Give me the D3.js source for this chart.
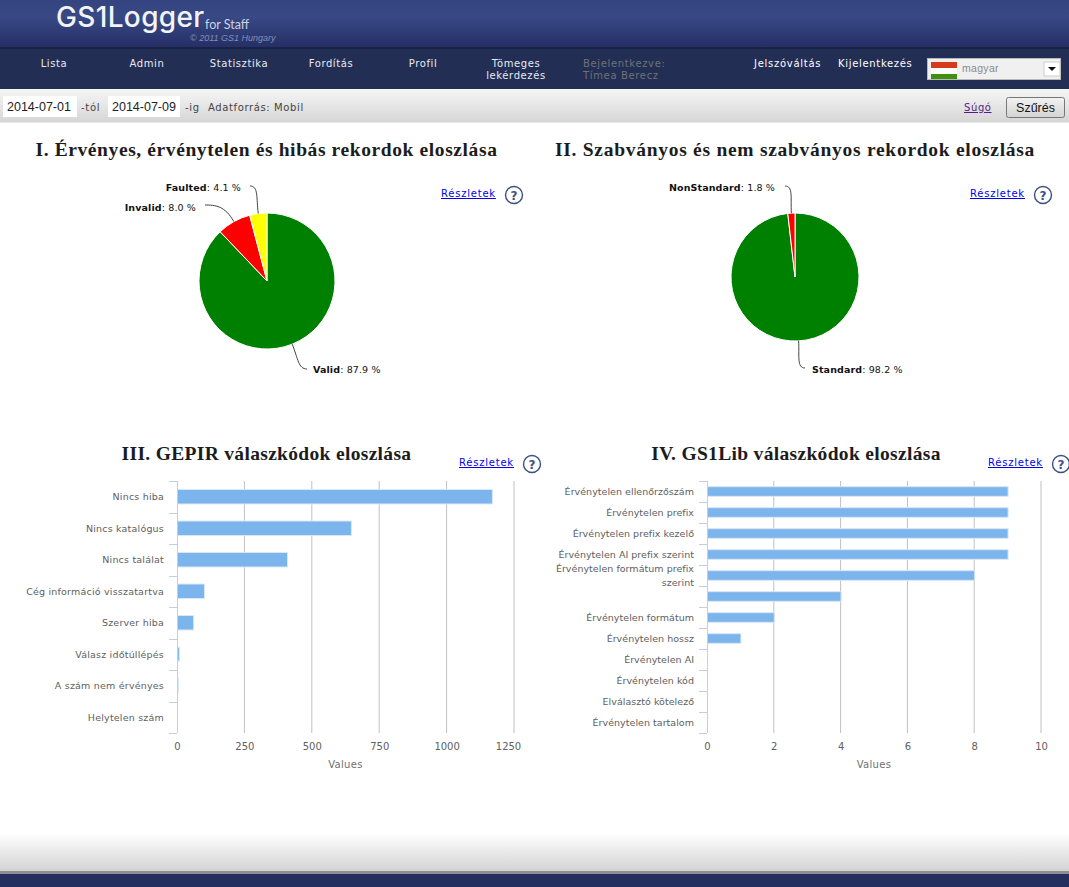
<!DOCTYPE html>
<html><head><meta charset="utf-8">
<script src="https://d3js.org/d3.v7.min.js"></script>
<style>
html,body{margin:0;padding:0;background:#fff;overflow:hidden}
svg{display:block}
text{font-family:"DejaVu Sans",sans-serif}
</style></head><body><div id="c"></div>
<script>
const navItems=[["Lista"],["Admin"],["Statisztika"],["Fordítás"],["Profil"],["Tömeges","lekérdezés"]];
const pieOneNames=["Valid","Invalid","Faulted"];
const pieOneValues=[87.9,8.0,4.1];
const pieOneColors=["#008000","#ff0000","#ffff00"];
const pieTwoNames=["Standard","NonStandard"];
const pieTwoValues=[98.2,1.8];
const pieTwoColors=["#008000","#ff0000"];
const gepirCategories=["Nincs hiba","Nincs katalógus","Nincs találat","Cég információ visszatartva","Szerver hiba","Válasz időtúllépés","A szám nem érvényes","Helytelen szám"];
const gepirValues=[1168,645,408,100,60,7,3,0];
const gepirTicks=[0,250,500,750,1000,1250];
const libCategories=["Érvénytelen ellenőrzőszám","Érvénytelen prefix","Érvénytelen prefix kezelő","Érvénytelen AI prefix szerint","Érvénytelen formátum prefix szerint","","Érvénytelen formátum","Érvénytelen hossz","Érvénytelen AI","Érvénytelen kód","Elválasztó kötelező","Érvénytelen tartalom"];
const libValues=[9,9,9,9,8,4,2,1,0,0,0,0];
const libTicks=[0,2,4,6,8,10];

const W=1069,H=887;
const svg=d3.select("#c").append("svg").attr("width",W).attr("height",H);
const defs=svg.append("defs");
function grad(id,stops){const g=defs.append("linearGradient").attr("id",id).attr("x1",0).attr("x2",0).attr("y1",0).attr("y2",1);
 stops.forEach(([o,c])=>g.append("stop").attr("offset",o).attr("stop-color",c));}
grad("hdr",[[0,"#34447f"],[.35,"#384985"],[1,"#262f66"]]);
grad("bar",[[0,"#f6f6f6"],[1,"#d6d6d6"]]);
grad("foot",[[0,"#ffffff"],[1,"#d2d2d2"]]);
grad("btn",[[0,"#f2f2f2"],[1,"#d4d4d4"]]);
function rect(x,y,w,h,f,s){return svg.append("rect").attr("x",x).attr("y",y).attr("width",w).attr("height",h).attr("fill",f).attr("stroke",s||"none");}
function txt(x,y,t,o={}){const e=svg.append("text").attr("x",x).attr("y",y).text(t)
 .attr("font-size",o.size||10).attr("fill",o.fill||"#333").attr("text-anchor",o.anchor||"start");
 if(o.family)e.style("font-family",o.family);
 if(o.weight)e.attr("font-weight",o.weight);
 if(o.style)e.attr("font-style",o.style);
 if(o.ls)e.attr("letter-spacing",o.ls);
 if(o.deco)e.attr("text-decoration",o.deco);
 return e;}

// header
rect(0,0,W,47,"url(#hdr)");
rect(0,47,W,2,"#1a2245");
rect(0,49,W,40,"#232e55");
rect(0,89,W,33,"url(#bar)");
rect(0,122,W,1,"#e8e8e8");
// logo
txt(56,26.5,"GS1Logger",{size:28,fill:"#f2f4f8",family:"Inter",weight:500,ls:"0.35px"});
txt(205,29,"for Staff",{size:12.5,fill:"#cdd2e2",family:"Lato"});
txt(190,41,"© 2011 GS1 Hungary",{size:9,fill:"#8290b8",family:"Liberation Sans",style:"italic"});
// nav
const navX=[54,147,239,331,423,516];
navItems.forEach((lines,i)=>lines.forEach((l,j)=>txt(navX[i],67+j*12,l,{size:10,fill:"#e8ebf2",anchor:"middle",ls:"0.6px"})));
txt(583,67,"Bejelentkezve:",{size:10,fill:"#6d7278",ls:"0.65px"});
txt(583,79,"Tímea Berecz",{size:10,fill:"#6d7278",ls:"0.65px"});
txt(754,67,"Jelszóváltás",{size:10,fill:"#fff",ls:"0.72px"});
txt(838,67,"Kijelentkezés",{size:10,fill:"#fff",ls:"0.68px"});
rect(927.5,58.5,133,21,"#f0f0f0","#b8b8b8");
rect(931,62,26,6,"#d63a1a");rect(931,68,26,6,"#fbfbfb");rect(931,74,26,5,"#3f8f10");
txt(962,72,"magyar",{size:10.5,fill:"#8a8a8a",family:"Liberation Sans",ls:"0.3px"});
rect(1044,62,16,14,"#fff","#cfcfcf");
svg.append("path").attr("d",d3.line()([[1048,67],[1056,67],[1052,71]])+"Z").attr("fill","#111");
// toolbar
rect(3,96,74,21,"#fff");rect(108,96,72,21,"#fff");
txt(7,111,"2014-07-01",{size:12.5,fill:"#222",family:"Liberation Sans"});
txt(112,111,"2014-07-09",{size:12.5,fill:"#222",family:"Liberation Sans"});
txt(81,111,"-tól",{size:10,fill:"#444",ls:"0.7px"});
txt(185,111,"-ig",{size:10,fill:"#444",ls:"0.7px"});
txt(208,111,"Adatforrás: Mobil",{size:10,fill:"#444",ls:"0.62px"});
txt(964,111,"Súgó",{size:10,fill:"#551a8b",deco:"underline",ls:"0.6px"});
svg.append("rect").attr("x",1006.5).attr("y",97.5).attr("width",58).attr("height",20).attr("rx",2).attr("fill","url(#btn)").attr("stroke","#777");
txt(1035.5,112,"Szűrés",{size:12.5,fill:"#111",anchor:"middle",family:"Liberation Sans"});
// footer
rect(0,833,W,39,"url(#foot)");
rect(0,871,W,3,"#8f8f8f");
rect(0,874,W,13,"#242f60");

// titles
const T={size:19.5,fill:"#1c1c1c",weight:"bold",family:"'Liberation Serif'",anchor:"middle"};
txt(266.5,156,"I. Érvényes, érvénytelen és hibás rekordok eloszlása",{...T,ls:"0.6px"});
txt(795,156,"II. Szabványos és nem szabványos rekordok eloszlása",{...T,ls:"0.72px"});
txt(266.5,460,"III. GEPIR válaszkódok eloszlása",{...T,ls:"0.32px"});
txt(796,460,"IV. GS1Lib válaszkódok eloszlása",{...T,ls:"0.32px"});
// details
function details(x,y){
 txt(x,y,"Részletek",{size:10,fill:"#0000ee",deco:"underline",ls:"0.78px"});
 const cx=x+73,cy=y-2;
 svg.append("circle").attr("cx",cx).attr("cy",cy).attr("r",8.5).attr("fill","#fff").attr("stroke","#3c4f86").attr("stroke-width",1.4);
 txt(cx,cy+4.5,"?",{size:12,fill:"#3c4f86",anchor:"middle",weight:"bold"});
}
details(441,197);details(970,197);details(459,466);details(988,466);

// pies
function drawPie(cx,cy,r,names,vals,cols,labels){
 const g=svg.append("g").attr("transform",`translate(${cx},${cy})`);
 const arcs=d3.pie().sort(null)(vals);
 const arc=d3.arc().innerRadius(0).outerRadius(r);
 g.selectAll("path.s").data(arcs).join("path").attr("class","s").attr("d",arc)
  .attr("fill",(d,i)=>cols[i]).attr("stroke","#fff").attr("stroke-width",1).attr("stroke-linejoin","round");
 arcs.forEach((a,i)=>{
  const m=(a.startAngle+a.endAngle)/2, sx=Math.sin(m), sy=-Math.cos(m);
  const L=labels[i];
  const px=r*sx, py=r*sy;
  const ex=L.x-cx, ey=L.y-cy;
  const dist=Math.hypot(ex-px,ey-py);
  const c1=[px+sx*dist*.55,py+sy*dist*.55];
  const c2=[ex+(L.side)*dist*.3,ey];
  g.append("path").attr("d",`M${px},${py}C${c1[0]},${c1[1]} ${c2[0]},${c2[1]} ${ex},${ey}`)
   .attr("fill","none").attr("stroke","#444").attr("stroke-width",1);
  const t=svg.append("text").attr("x",L.tx).attr("y",L.ly+3.5).attr("font-size",9.5).attr("fill","#111")
   .attr("text-anchor",L.side>0?"end":"start").attr("letter-spacing","0.12px");
  t.append("tspan").attr("font-weight","bold").text(names[i]);
  t.append("tspan").text(": "+vals[i].toFixed(1)+" %");
 });
}
drawPie(267,281,68,pieOneNames,pieOneValues,pieOneColors,[
 {x:307,y:369,tx:313,ly:369,side:-1},
 {x:205,y:205,tx:196,ly:207,side:1},
 {x:250,y:186,tx:241,ly:187,side:1}]);
drawPie(795,277,64,pieTwoNames,pieTwoValues,pieTwoColors,[
 {x:805,y:368,tx:812,ly:369,side:-1},
 {x:785,y:186,tx:775,ly:187,side:1}]);

// bars
function drawBars(x0,x1,y0,y1,cats,vals,ticks,domMax,ls,lastShift){
 const x=d3.scaleLinear().domain([0,domMax]).range([x0,x1]);
 const y=d3.scaleBand().domain(d3.range(cats.length)).range([y0,y1]);
 const g=svg.append("g");
 g.selectAll("line.gr").data(ticks.slice(1)).join("line").attr("class","gr")
  .attr("x1",d=>x(d)).attr("x2",d=>x(d)).attr("y1",y0).attr("y2",y1).attr("stroke","#c0c0c0").attr("stroke-width",1);
 const hb=y.bandwidth()*0.46;
 g.selectAll("rect").data(vals).join("rect")
  .attr("x",x0+.5).attr("y",(d,i)=>y(i)+y.bandwidth()/2-hb/2).attr("width",d=>Math.max(0,x(d)-x0))
  .attr("height",hb).attr("fill","#7cb5ec").attr("stroke","#d9e8f8").attr("stroke-width",1)
  .attr("opacity",d=>d>0?1:0);
 const ax=g.append("g").attr("transform",`translate(0,${y1})`).call(d3.axisBottom(x).tickValues(ticks).tickSize(0).tickPadding(10).tickFormat(d3.format("d")));
 ax.select(".domain").remove();
 ax.selectAll("text").attr("font-size",10).attr("fill","#606060").style("font-family","'DejaVu Sans'")
  .attr("dx",(d,i)=>i===ticks.length-1?-lastShift:0);
 g.append("line").attr("x1",x0+.5).attr("x2",x0+.5).attr("y1",y0).attr("y2",y1).attr("stroke","#c0d0e0");
 d3.range(cats.length+1).forEach(i=>{
  const yy=i<cats.length?y(i):y1;
  g.append("line").attr("x1",x0-8).attr("x2",x0).attr("y1",Math.round(yy)+.5).attr("y2",Math.round(yy)+.5).attr("stroke","#c0d0e0");
 });
 cats.forEach((c,i)=>{
  if(!c)return;
  const cy=y(i)+y.bandwidth()/2;
  let lines=[c];
  if(c.length>30){const w=c.split(" ");lines=[w.slice(0,-1).join(" "),w[w.length-1]];}
  lines.forEach((l,j)=>{
   txt(x0-13,cy+3.5+(j-(lines.length-1)/2)*14,l,{size:9.5,fill:"#606060",anchor:"end",ls:ls+"px"});
  });
 });
 txt((x0+x1)/2,768,"Values",{size:10,fill:"#707070",anchor:"middle",ls:"0.3px"});
}
drawBars(177,514,481,733,gepirCategories,gepirValues,gepirTicks,1250,0.2,6);
drawBars(707,1041,481,733,libCategories,libValues,libTicks,10,0.03,0);
</script></body></html>
